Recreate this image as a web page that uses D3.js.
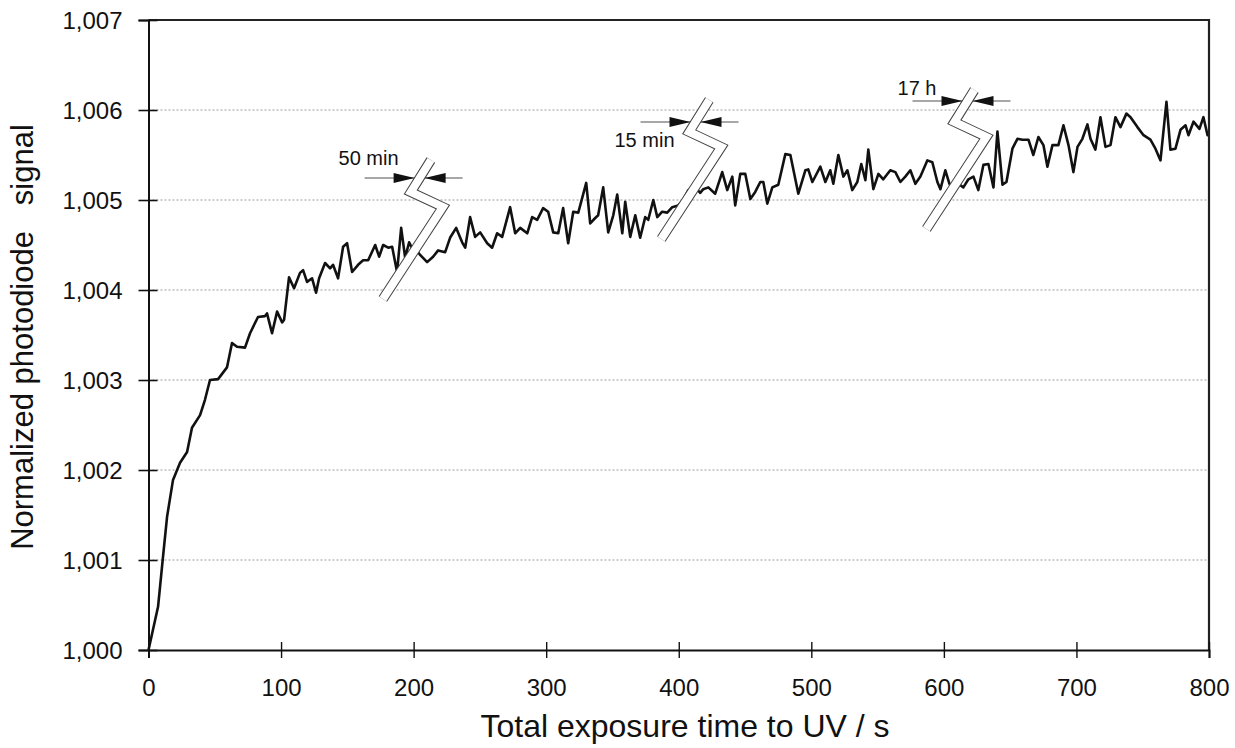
<!DOCTYPE html>
<html>
<head>
<meta charset="utf-8">
<script src="https://cdn.jsdelivr.net/npm/d3@7/dist/d3.min.js"></script>
<style>
  body { margin: 0; background: #fff; }
  text { font-family: "Liberation Sans", Arial, Helvetica, sans-serif; fill: #111; }
</style>
</head>
<body>
<div id="chart"></div>
<script>
const width = 1235;
const height = 748;

// exposure time (s) and normalized signal
const timeS = [
  0, 7.2, 10.9, 14.0, 18.5, 23.8, 29.1, 32.8, 38.9, 42.6, 46.4, 52.5, 59.2, 63.0, 66.8, 72.8, 76.6,
  82.6, 87.9, 89.4, 93.2, 97.0, 100.8, 102.3, 106.0, 109.8, 114.3, 116.6, 119.6, 123.4, 126.4, 128.7,
  133.2, 137.0, 139.2, 143.0, 146.8, 149.8, 153.6, 158.1, 161.9, 165.7, 171.0, 174.0, 177.0, 180.8,
  183.8, 187.5, 190.6, 193.6, 196.6, 199.6, 203.4, 204.9, 210.2, 214.7, 218.5, 223.8, 227.5, 232.1,
  236.6, 238.9, 242.6, 246.4, 250.2, 255.5, 259.2, 263.0, 266.8, 272.8, 276.6, 280.4, 285.7, 289.4,
  293.2, 297.7, 301.5, 305.3, 309.1, 312.8, 316.6, 320.4, 324.2, 330.2, 333.2, 337.0, 339.2, 343.0,
  346.8, 350.6, 353.6, 357.4, 359.6, 363.4, 367.2, 370.9, 374.7, 377.0, 380.8, 383.8, 387.5, 391.3,
  395.1, 399.6, 403.4, 407.2, 412.5, 416.2, 418.5, 422.3, 427.5, 432.8, 436.6, 440.4, 442.6, 446.4,
  450.2, 454.0, 457.7, 461.5, 463.8, 466.8, 470.6, 475.1, 480.4, 484.2, 490.2, 495.5, 497.7, 500.8,
  506.8, 510.6, 514.3, 516.6, 520.4, 524.2, 527.2, 530.9, 534.7, 537.7, 540.8, 543.0, 546.8, 550.6,
  554.3, 559.6, 563.4, 567.2, 570.9, 574.7, 578.5, 582.3, 587.5, 591.3, 595.1, 597.4, 601.1, 604.2,
  607.2, 610.9, 614.7, 618.5, 622.3, 626.0, 629.8, 633.6, 637.4, 640.4, 644.2, 647.2, 651.7, 655.5,
  659.2, 663.8, 667.5, 671.3, 675.1, 678.1, 681.9, 686.4, 690.2, 694.0, 697.7, 700.8, 704.5, 708.3,
  710.6, 714.3, 718.1, 721.9, 725.7, 729.4, 733.2, 737.7, 740.8, 746.0, 750.6, 755.8, 759.6, 763.4,
  767.9, 770.9, 774.7, 778.5, 782.3, 784.5, 788.3, 792.8, 795.8, 798.9, 800
];
const signal = [
  1.00000, 1.00048, 1.00103, 1.00148, 1.00189, 1.00208, 1.00220, 1.00247, 1.00261, 1.00278, 1.00300,
  1.00301, 1.00314, 1.00341, 1.00337, 1.00336, 1.00352, 1.00370, 1.00371, 1.00374, 1.00352, 1.00376,
  1.00364, 1.00367, 1.00414, 1.00402, 1.00419, 1.00422, 1.00409, 1.00413, 1.00397, 1.00413, 1.00430,
  1.00424, 1.00428, 1.00413, 1.00448, 1.00452, 1.00420, 1.00428, 1.00433, 1.00433, 1.00450, 1.00437,
  1.00450, 1.00447, 1.00448, 1.00420, 1.00469, 1.00436, 1.00453, 1.00444, 1.00442, 1.00439, 1.00431,
  1.00437, 1.00444, 1.00442, 1.00458, 1.00469, 1.00453, 1.00447, 1.00481, 1.00459, 1.00464, 1.00452,
  1.00447, 1.00463, 1.00459, 1.00492, 1.00463, 1.00469, 1.00463, 1.00481, 1.00478, 1.00491, 1.00487,
  1.00464, 1.00463, 1.00491, 1.00452, 1.00487, 1.00486, 1.00519, 1.00474, 1.00480, 1.00483, 1.00514,
  1.00464, 1.00483, 1.00506, 1.00463, 1.00498, 1.00459, 1.00483, 1.00458, 1.00481, 1.00478, 1.00500,
  1.00481, 1.00487, 1.00486, 1.00492, 1.00494, 1.00500, 1.00511, 1.00514, 1.00508, 1.00512, 1.00514,
  1.00507, 1.00531, 1.00511, 1.00526, 1.00494, 1.00529, 1.00529, 1.00501, 1.00509, 1.00520, 1.00520,
  1.00496, 1.00514, 1.00517, 1.00551, 1.00550, 1.00507, 1.00533, 1.00534, 1.00520, 1.00537, 1.00520,
  1.00533, 1.00518, 1.00550, 1.00526, 1.00533, 1.00511, 1.00520, 1.00540, 1.00522, 1.00556, 1.00512,
  1.00529, 1.00523, 1.00533, 1.00531, 1.00520, 1.00526, 1.00533, 1.00518, 1.00526, 1.00544, 1.00542,
  1.00520, 1.00512, 1.00533, 1.00518, 1.00509, 1.00518, 1.00514, 1.00523, 1.00526, 1.00511, 1.00539,
  1.00540, 1.00514, 1.00576, 1.00517, 1.00520, 1.00557, 1.00568, 1.00567, 1.00567, 1.00550, 1.00570,
  1.00561, 1.00537, 1.00561, 1.00561, 1.00583, 1.00561, 1.00531, 1.00559, 1.00568, 1.00584, 1.00568,
  1.00556, 1.00592, 1.00559, 1.00561, 1.00592, 1.00581, 1.00596, 1.00592, 1.00581, 1.00572, 1.00567,
  1.00557, 1.00544, 1.00609, 1.00556, 1.00557, 1.00578, 1.00583, 1.00572, 1.00587, 1.00579, 1.00592,
  1.00572, 1.00575
];

const xTicks = [0, 100, 200, 300, 400, 500, 600, 700, 800];
const yTicks = [1.000, 1.001, 1.002, 1.003, 1.004, 1.005, 1.006, 1.007];
const yTickLabels = ['1,000', '1,001', '1,002', '1,003', '1,004', '1,005', '1,006', '1,007'];

// interruptions of the time axis
const breakTimes = [210, 420, 620];
const breakLevels = [1.00500, 1.005667, 1.005778];
const breakArrowLevels = [1.005244, 1.005867, 1.0061];
const breakLabels = ['50 min', '15 min', '17 h'];

const svg = d3.select('#chart').append('svg')
  .attr('width', width)
  .attr('height', height)
  .style('background', '#fff');

const x = d3.scaleLinear().domain([0, 800]).range([148.5, 1209]);
const y = d3.scaleLinear().domain([1.000, 1.007]).range([650, 20]);

// dotted grid
svg.append('g')
  .selectAll('line')
  .data(yTicks.slice(1, -1))
  .enter()
  .append('line')
  .attr('x1', x(0)).attr('x2', x(800))
  .attr('y1', d => y(d)).attr('y2', d => y(d))
  .attr('stroke', '#9a9a9a')
  .attr('stroke-width', 1)
  .attr('stroke-dasharray', '2,2');

// signal
const line = d3.line()
  .x((d, i) => x(timeS[i]))
  .y(d => y(d));

svg.append('path')
  .datum(signal)
  .attr('d', line)
  .attr('fill', 'none')
  .attr('stroke', '#111')
  .attr('stroke-width', 2.6)
  .attr('stroke-linejoin', 'round');

// break symbols: hollow zigzag band, arrows and label
const zig = [[-44, 99], [16, 7], [-16, -8], [4, -40]];
const labelPos = [{ dx: -21, dy: -13 }, { dx: -21, dy: 25 }, { dx: -31, dy: -6 }];

breakTimes.forEach((t, i) => {
  const cx = x(t);
  const cy = y(breakLevels[i]);
  const pts = zig.map(([dx, dy]) => [cx + dx, cy + dy]);
  const ay = y(breakArrowLevels[i]);
  const kl = pts[2], top = pts[3];
  const s = (ay - kl[1]) / (top[1] - kl[1]);
  const bx = kl[0] + s * (top[0] - kl[0]);

  const g = svg.append('g');

  g.append('line')
    .attr('x1', bx - 55).attr('x2', bx + 43)
    .attr('y1', ay).attr('y2', ay)
    .attr('stroke', '#8a8a8a')
    .attr('stroke-width', 1.6);

  const band = d3.line()(pts);
  g.append('path')
    .attr('d', band)
    .attr('fill', 'none')
    .attr('stroke', '#444')
    .attr('stroke-width', 10)
    .attr('stroke-linejoin', 'miter');
  g.append('path')
    .attr('d', band)
    .attr('fill', 'none')
    .attr('stroke', '#fff')
    .attr('stroke-width', 8)
    .attr('stroke-linejoin', 'miter');

  g.append('path')
    .attr('d', `M${bx - 5},${ay} L${bx - 26},${ay - 5} L${bx - 26},${ay + 5} Z`)
    .attr('fill', '#111');
  g.append('path')
    .attr('d', `M${bx + 5},${ay} L${bx + 26},${ay - 5} L${bx + 26},${ay + 5} Z`)
    .attr('fill', '#111');

  g.append('text')
    .attr('x', bx + labelPos[i].dx)
    .attr('y', ay + labelPos[i].dy)
    .attr('text-anchor', 'end')
    .style('font-size', '20px')
    .text(breakLabels[i]);
});

// frame
svg.append('path')
  .attr('d', `M${x(0)},${y(1.007)} H${x(800)} V${y(1.000)}`)
  .attr('fill', 'none')
  .attr('stroke', '#222')
  .attr('stroke-width', 2.2);

// y axis
const yAxis = svg.append('g')
  .attr('transform', `translate(${x(0)},0)`)
  .call(d3.axisLeft(y).tickValues(yTicks).tickSize(10)
    .tickFormat((d, i) => yTickLabels[i]));
yAxis.select('.domain').attr('stroke', '#111').attr('stroke-width', 2);
yAxis.selectAll('.tick line').attr('x1', 9).attr('x2', -10)
  .attr('stroke', '#111').attr('stroke-width', 1.6);
yAxis.selectAll('.tick text')
  .attr('x', -26)
  .attr('dy', '0.36em')
  .style('font-size', '24px')
  .style('font-family', '"Liberation Sans", Arial, sans-serif')
  .attr('fill', '#111');

// x axis
const xAxis = svg.append('g')
  .attr('transform', `translate(0,${y(1.000)})`)
  .call(d3.axisBottom(x).tickValues(xTicks).tickSize(8).tickFormat(d3.format('d')));
xAxis.select('.domain').attr('stroke', '#111').attr('stroke-width', 2);
xAxis.selectAll('.tick line').attr('y1', -8).attr('y2', 8)
  .attr('stroke', '#111').attr('stroke-width', 1.4);
xAxis.selectAll('.tick text')
  .attr('y', 46)
  .attr('dy', 0)
  .style('font-size', '24px')
  .style('font-family', '"Liberation Sans", Arial, sans-serif')
  .attr('fill', '#111');

// axis titles
svg.append('text')
  .attr('x', 685)
  .attr('y', 737)
  .attr('text-anchor', 'middle')
  .style('font-size', '32px')
  .text('Total exposure time to UV / s');

svg.append('text')
  .attr('transform', 'translate(33,337) rotate(-90)')
  .attr('text-anchor', 'middle')
  .style('font-size', '31px')
  .style('white-space', 'pre')
  .attr('xml:space', 'preserve')
  .text('Normalized photodiode   signal');
</script>
</body>
</html>
